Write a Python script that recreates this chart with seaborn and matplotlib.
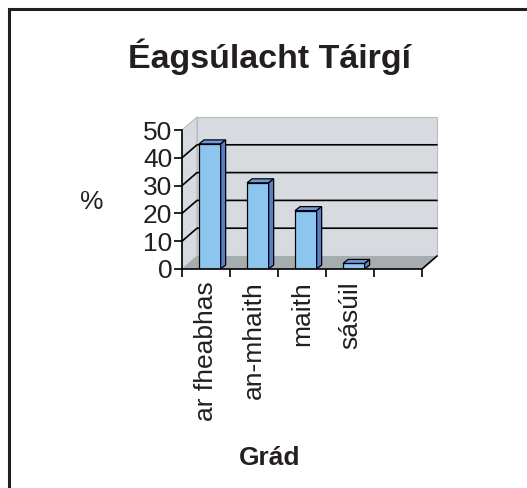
import numpy as np
import pandas as pd
import matplotlib
matplotlib.use("Agg")
import matplotlib.pyplot as plt
import seaborn as sns
from matplotlib.patches import Polygon, Rectangle

categories = ["ar fheabhas", "an-mhaith", "maith", "sásúil"]
percent = [45, 31, 21, 2]
n_slots = 5          # the chart keeps one empty category slot on the right
y_ticks = [0, 10, 20, 30, 40, 50]

title = "Éagsúlacht Táirgí"
x_title = "Grád"
y_title = "%"

front_col = "#8cc6ef"
side_col = "#5b7cc6"
top_col = "#6f98da"
wall_col = "#d7dbdf"
floor_col = "#a7acb0"

sns.set_theme(style="white")
plt.rcParams["font.family"] = ["Liberation Sans", "DejaVu Sans"]

W, H = 527, 488
fig = plt.figure(figsize=(W / 100, H / 100), dpi=100)
ax = fig.add_axes([182 / W, 1 - 269 / H, 240 / W, 139 / H])
ax.set_facecolor("none")

df = pd.DataFrame({"grade": categories, "pct": percent})
sns.barplot(data=df, x="grade", y="pct", ax=ax, color=front_col, width=0.45,
            saturation=1, edgecolor="black", linewidth=0.9, zorder=5)
ax.set_xlim(-0.5, n_slots - 0.5)
ax.set_ylim(0, 50)

# pixel -> data conversion for the fake 3D depth
sx = ax.bbox.width / n_slots
sy = ax.bbox.height / 50
dx, dy = 15 / sx, 13 / sy
bdx, bdy = 5 / sx, 4 / sy
x0, x1 = -0.5, n_slots - 0.5

# back wall, side wall, floor
ax.add_patch(Rectangle((x0 + dx, dy), n_slots, 50, facecolor=wall_col,
                       edgecolor="#b8bcc0", linewidth=0.8, clip_on=False, zorder=0))
ax.add_patch(Polygon([(x0, 0), (x0, 50), (x0 + dx, 50 + dy), (x0 + dx, dy)],
                     facecolor=wall_col, edgecolor="#b8bcc0", linewidth=0.8,
                     clip_on=False, zorder=0))
ax.add_patch(Polygon([(x0, 0), (x1, 0), (x1 + dx, dy), (x0 + dx, dy)],
                     facecolor=floor_col, edgecolor="none", clip_on=False, zorder=1))
ax.plot([x1, x1 + dx], [0, dy], color="black", lw=1.2, clip_on=False, zorder=2)
for v in y_ticks[1:-1]:
    ax.plot([x0, x0 + dx, x1 + dx], [v, v + dy, v + dy], color="black",
            lw=1.2, clip_on=False, zorder=1)

# shift bars a little like the original, then add top / side faces
for p in ax.patches:
    if not isinstance(p, Rectangle) or p.get_facecolor()[:3] != matplotlib.colors.to_rgb(front_col):
        continue
    p.set_x(p.get_x() + 0.08)
    bx, bw, bh = p.get_x(), p.get_width(), p.get_height()
    ax.add_patch(Polygon([(bx, bh), (bx + bw, bh), (bx + bw + bdx, bh + bdy), (bx + bdx, bh + bdy)],
                         facecolor=top_col, edgecolor="black", linewidth=0.9,
                         clip_on=False, zorder=6))
    ax.add_patch(Polygon([(bx + bw, 0), (bx + bw + bdx, bdy), (bx + bw + bdx, bh + bdy), (bx + bw, bh)],
                         facecolor=side_col, edgecolor="black", linewidth=0.9,
                         clip_on=False, zorder=6))

for s in ["top", "right"]:
    ax.spines[s].set_visible(False)
for s in ["left", "bottom"]:
    ax.spines[s].set_color("black")
    ax.spines[s].set_linewidth(1.2)
    ax.spines[s].set_zorder(7)

ax.set_yticks(y_ticks)
ax.tick_params(axis="y", direction="out", length=6, width=1.2, color="black",
               labelsize=19, pad=1, left=True, labelcolor="#231f20")
ax.set_xticks(np.arange(n_slots - 1))
ax.set_xticklabels(categories, rotation=90, va="top", ha="center")
ax.set_xticks(np.arange(n_slots + 1) - 0.5, minor=True)
ax.tick_params(axis="x", which="major", length=0, pad=9, labelsize=19,
               labelcolor="#231f20")
ax.tick_params(axis="x", which="minor", direction="out", length=6, width=1.2,
               color="black", bottom=True)
ax.set_xlabel("")
ax.set_ylabel("")

fig.text(270 / W, 1 - 57 / H, title, ha="center", va="center",
         fontsize=24.5, fontweight="bold", color="#231f20")
fig.text(92 / W, 1 - 202 / H, y_title, ha="center", va="center",
         fontsize=19, color="#231f20")
fig.text(270 / W, 1 - 458 / H, x_title, ha="center", va="center",
         fontsize=19, fontweight="bold", color="#231f20")

fig.patches.append(Rectangle((9 / W, -0.1), 1.2, 1.1 - 9 / H, transform=fig.transFigure,
                             facecolor="none", edgecolor="#231f20", linewidth=2.2))

fig.savefig("out.png", dpi=100)
